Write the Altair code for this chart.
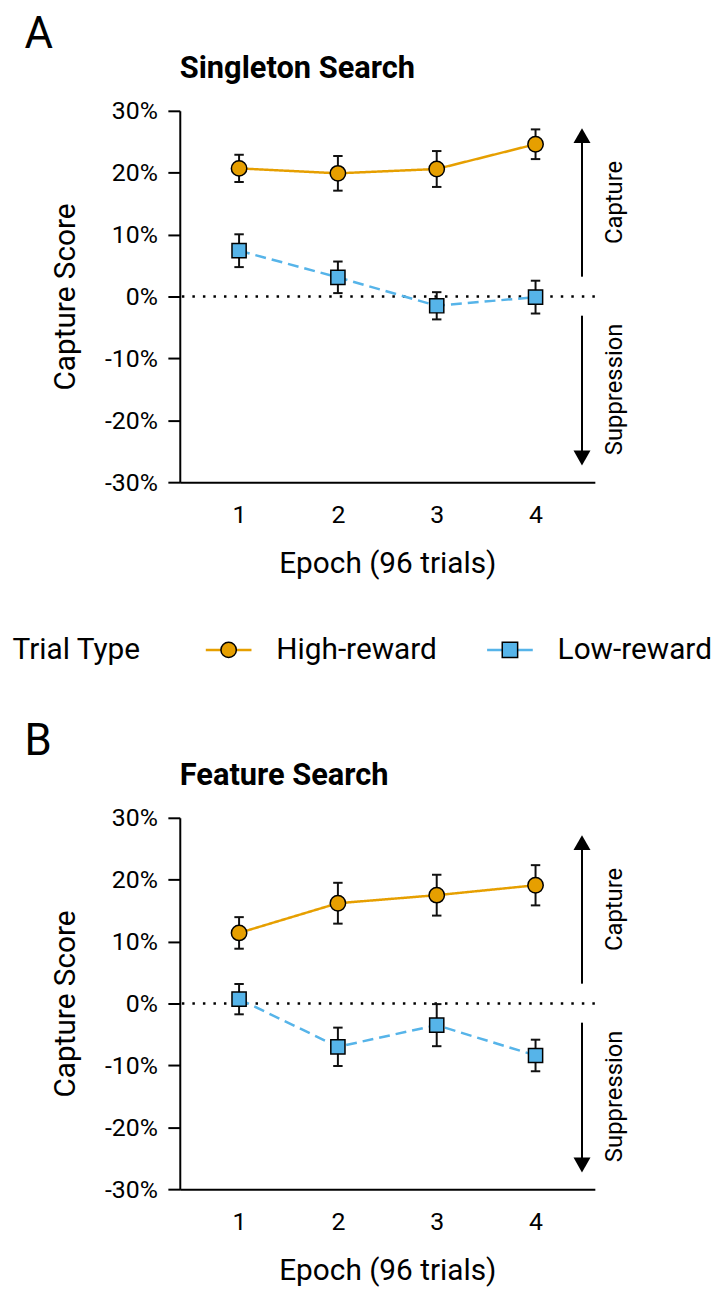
import altair as alt
import pandas as pd

# ---------------- values (capture score, %) ----------------
epochs = [1, 2, 3, 4]
trial_types = ["High-reward", "Low-reward"]

singleton_high = [20.7, 19.9, 20.6, 24.6]
singleton_high_se = [2.2, 2.8, 2.9, 2.4]
singleton_low = [7.4, 3.1, -1.5, -0.1]
singleton_low_se = [2.65, 2.55, 2.2, 2.65]

feature_high = [11.4, 16.2, 17.5, 19.1]
feature_high_se = [2.55, 3.3, 3.3, 3.25]
feature_low = [0.7, -7.0, -3.5, -8.4]
feature_low_se = [2.45, 3.1, 3.4, 2.55]

y_ticks = [-30, -20, -10, 0, 10, 20, 30]
panel_titles = ["Singleton Search", "Feature Search"]
panel_letters = ["A", "B"]
direction_labels = ["Capture", "Suppression"]
legend_title = "Trial Type"

# ---------------- styling / layout constants ----------------
FONT = "Roboto"
COLORS = ["#E69F00", "#56B4E9"]
W, H = 418, 374
ARROW_X = 4.47
ARROW_UP = (3.2, 26.0, 27.2)      # start, end of shaft, tip
ARROW_DOWN = (-3.1, -26.0, -27.3)
DIR_X = 4.8
DIR_Y = [15.2, -15.0]


def frame(high, high_se, low, low_se):
    rows = []
    for t, vals, ses in [(trial_types[0], high, high_se), (trial_types[1], low, low_se)]:
        for e, v, s in zip(epochs, vals, ses):
            rows.append({"epoch": e, "type": t, "score": v, "lo": v - s, "hi": v + s})
    return pd.DataFrame(rows)


x_scale = alt.Scale(domain=[0.4, 4.6], nice=False, zero=False)
y_scale = alt.Scale(domain=[-30, 30], nice=False, zero=False)
x_axis = alt.Axis(values=epochs, format="d", title="Epoch (96 trials)")
y_axis = alt.Axis(values=y_ticks, labelExpr="datum.value + '%'", title="Capture Score")
color_scale = alt.Scale(domain=trial_types, range=COLORS)
shape_scale = alt.Scale(domain=trial_types, range=["circle", "square"])


def X(field="epoch"):
    return alt.X(f"{field}:Q", scale=x_scale, axis=x_axis)


def Y(field):
    return alt.Y(f"{field}:Q", scale=y_scale, axis=y_axis)


def panel(df, title, letter):
    base = alt.Chart(df)
    color = alt.Color("type:N", scale=color_scale, legend=None)

    zero = alt.Chart(pd.DataFrame({"y": [0]})).mark_rule(
        color="black", strokeWidth=2.5, strokeDash=[2.5, 8.1]
    ).encode(y=Y("y"))

    arrows_df = pd.DataFrame({
        "x": [ARROW_X, ARROW_X],
        "y0": [ARROW_UP[0], ARROW_DOWN[0]],
        "y1": [ARROW_UP[1], ARROW_DOWN[1]],
    })
    shafts = alt.Chart(arrows_df).mark_rule(color="black", strokeWidth=2).encode(
        x=X("x"), y=Y("y0"), y2="y1:Q"
    )
    head_up = alt.Chart(pd.DataFrame({"x": [ARROW_X], "y": [ARROW_UP[2]]})).mark_point(
        shape="M0,0L0.57,1L-0.57,1Z", size=900, filled=True, opacity=1, color="black", strokeWidth=0
    ).encode(x=X("x"), y=Y("y"))
    head_down = alt.Chart(pd.DataFrame({"x": [ARROW_X], "y": [ARROW_DOWN[2]]})).mark_point(
        shape="M0,0L0.57,-1L-0.57,-1Z", size=900, filled=True, opacity=1, color="black", strokeWidth=0
    ).encode(x=X("x"), y=Y("y"))

    dir_df = pd.DataFrame({"label": direction_labels, "x": [DIR_X, DIR_X], "y": DIR_Y})
    dir_text = alt.Chart(dir_df).mark_text(
        angle=270, align="center", baseline="middle", font=FONT, fontSize=24, color="black"
    ).encode(x=X("x"), y=Y("y"), text="label:N")

    lines = base.mark_line(strokeWidth=2.5).encode(
        x=X(), y=Y("score"), color=color,
        strokeDash=alt.StrokeDash("type:N", scale=alt.Scale(domain=trial_types, range=[[1, 0], [11, 6]]), legend=None),
    )
    bars = base.mark_rule(color="#111111", strokeWidth=2).encode(x=X(), y=Y("lo"), y2="hi:Q")
    cap_lo = base.mark_tick(orient="horizontal", size=9.5, thickness=2, color="#111111", opacity=1).encode(x=X(), y=Y("lo"))
    cap_hi = base.mark_tick(orient="horizontal", size=9.5, thickness=2, color="#111111", opacity=1).encode(x=X(), y=Y("hi"))
    points = base.mark_point(filled=True, opacity=1, stroke="black", strokeWidth=1.5).encode(
        x=X(), y=Y("score"), color=color,
        shape=alt.Shape("type:N", scale=shape_scale, legend=None),
        size=alt.Size("type:N", scale=alt.Scale(domain=trial_types, range=[240, 204]), legend=None),
    )

    letter_txt = alt.Chart(pd.DataFrame({"t": [letter]})).mark_text(
        align="left", baseline="alphabetic", font=FONT, fontSize=44, color="black"
    ).encode(x=alt.value(-156.5), y=alt.value(-63.5), text="t:N")
    title_txt = alt.Chart(pd.DataFrame({"t": [title]})).mark_text(
        align="left", baseline="alphabetic", font=FONT, fontSize=31, fontWeight="bold", color="black"
    ).encode(x=alt.value(0), y=alt.value(-33), text="t:N")

    return alt.layer(
        zero, shafts, head_up, head_down, dir_text, lines, bars, cap_lo, cap_hi, points,
        letter_txt, title_txt,
    ).properties(width=W, height=H)


panel_a = panel(frame(singleton_high, singleton_high_se, singleton_low, singleton_low_se), panel_titles[0], panel_letters[0])
panel_b = panel(frame(feature_high, feature_high_se, feature_low, feature_low_se), panel_titles[1], panel_letters[1])

# ---------------- legend row ----------------
leg_df = pd.DataFrame({"type": trial_types})
lx = alt.X("type:N", scale=alt.Scale(type="point", domain=trial_types, range=[49.2, 332.5], padding=0), axis=None)
leg_color = alt.Color("type:N", scale=color_scale, legend=None)
leg_lines = alt.Chart(leg_df).mark_point(shape="stroke", size=2116, strokeWidth=2.5, filled=False, opacity=1).encode(
    x=lx, color=leg_color
)
leg_pts = alt.Chart(leg_df).mark_point(filled=True, opacity=1, stroke="black", strokeWidth=1.5, size=240).encode(
    x=lx, color=leg_color, shape=alt.Shape("type:N", scale=shape_scale, legend=None)
)
leg_txt = alt.Chart(leg_df).mark_text(align="left", baseline="middle", dx=48, font=FONT, fontSize=30, color="black").encode(
    x=lx, text="type:N"
)
leg_head = alt.Chart(pd.DataFrame({"t": [legend_title]})).mark_text(
    align="left", baseline="middle", font=FONT, fontSize=30, color="black"
).encode(x=alt.value(-168.5), text="t:N")
legend_row = alt.layer(leg_lines, leg_pts, leg_txt, leg_head).properties(width=W, height=137.8)

chart = (
    alt.vconcat(panel_a, legend_row, panel_b, spacing=100, bounds="flush")
    .properties(padding={"left": 4, "top": 0, "right": 0, "bottom": 0})
    .configure_view(stroke=None)
    .configure_axis(
        labelFont=FONT, titleFont=FONT, labelColor="black", titleColor="black",
        domainColor="black", domainWidth=2, tickColor="black", tickWidth=2, grid=False,
        labelFontSize=25, titleFontSize=30, titleFontWeight="normal",
    )
    .configure_axisX(ticks=False, tickSize=0, labelPadding=21, titlePadding=21)
    .configure_axisY(tickSize=12, labelPadding=10.5, titlePadding=24)
)

chart.save("out.html", embed_options={"renderer": "svg", "actions": False})
